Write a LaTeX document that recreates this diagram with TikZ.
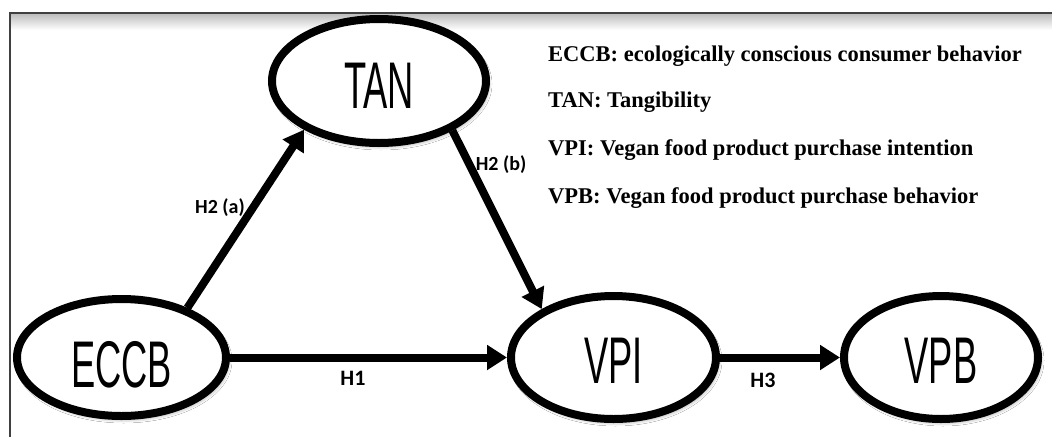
\documentclass[tikz,border=0pt]{standalone}
\usepackage{fontspec}
\setmainfont{Liberation Serif}
\newfontfamily\nodefont[FakeStretch=0.55]{Liberation Sans}
\newfontfamily\labfont{Carlito}
\usetikzlibrary{shapes.geometric,arrows.meta,shadows.blur}
\begin{document}
\begin{tikzpicture}[x=1pt,y=-1pt,
  var/.style={ellipse, draw=black, line width=8pt, fill=white, inner sep=0pt,
    font=\nodefont\fontsize{66}{66}\selectfont, text depth=0pt,
    blur shadow={shadow xshift=2pt, shadow yshift=-3pt, shadow blur radius=4pt, shadow opacity=45}},
  link/.style={line width=8pt, -{Triangle[length=20pt,width=24pt]}},
  hlab/.style={font=\labfont\bfseries\fontsize{20}{20}\selectfont, inner sep=0pt},
  hlabs/.style={font=\labfont\bfseries\fontsize{22}{22}\selectfont, inner sep=0pt},
  legend/.style={anchor=base west, font=\bfseries\fontsize{22.5}{22.5}\selectfont, inner sep=0pt}
]
\useasboundingbox[fill=white] (0,0) rectangle (1052,437);
% frame with soft shading under top edge
\shade[top color=black!25, bottom color=white] (11,14) rectangle (1052,30);
\draw[line width=2pt, black!75] (10,437) -- (10,13) -- (1052,13);

% variables
\node[var, minimum width=214pt, minimum height=124pt, text height=55pt] (TAN) at (379,81) {TAN};
\node[var, minimum width=209pt, minimum height=117pt, text height=59pt] (ECCB) at (121.5,357.5) {ECCB};
\node[var, minimum width=205pt, minimum height=123pt, text height=51pt] (VPI) at (613.5,357.5) {VPI};
\node[var, minimum width=194pt, minimum height=123pt, text height=51pt] (VPB) at (941,357.5) {VPB};

% paths
\draw[link] (ECCB.37) -- (TAN.213);
\draw[link] (TAN.326) -- (VPI.146);
\draw[link] (ECCB.east) -- (VPI.west);
\draw[link] (VPI.east) -- (VPB.west);

% path labels
\node[hlab] (la) at (220,208) {H2 (a)};
\node[hlab] (lb) at (501,165) {H2 (b)};
\node[hlabs] (l1) at (353,378) {H1};
\node[hlabs] (l3) at (763,380) {H3};

% legend
\node[legend] (k1) at (548,61) {ECCB: ecologically conscious consumer behavior};
\node[legend] (k2) at (548,107) {TAN: Tangibility};
\node[legend] (k3) at (548,155) {VPI: Vegan food product purchase intention};
\node[legend] (k4) at (548,203) {VPB: Vegan food product purchase behavior};
\end{tikzpicture}
\end{document}
